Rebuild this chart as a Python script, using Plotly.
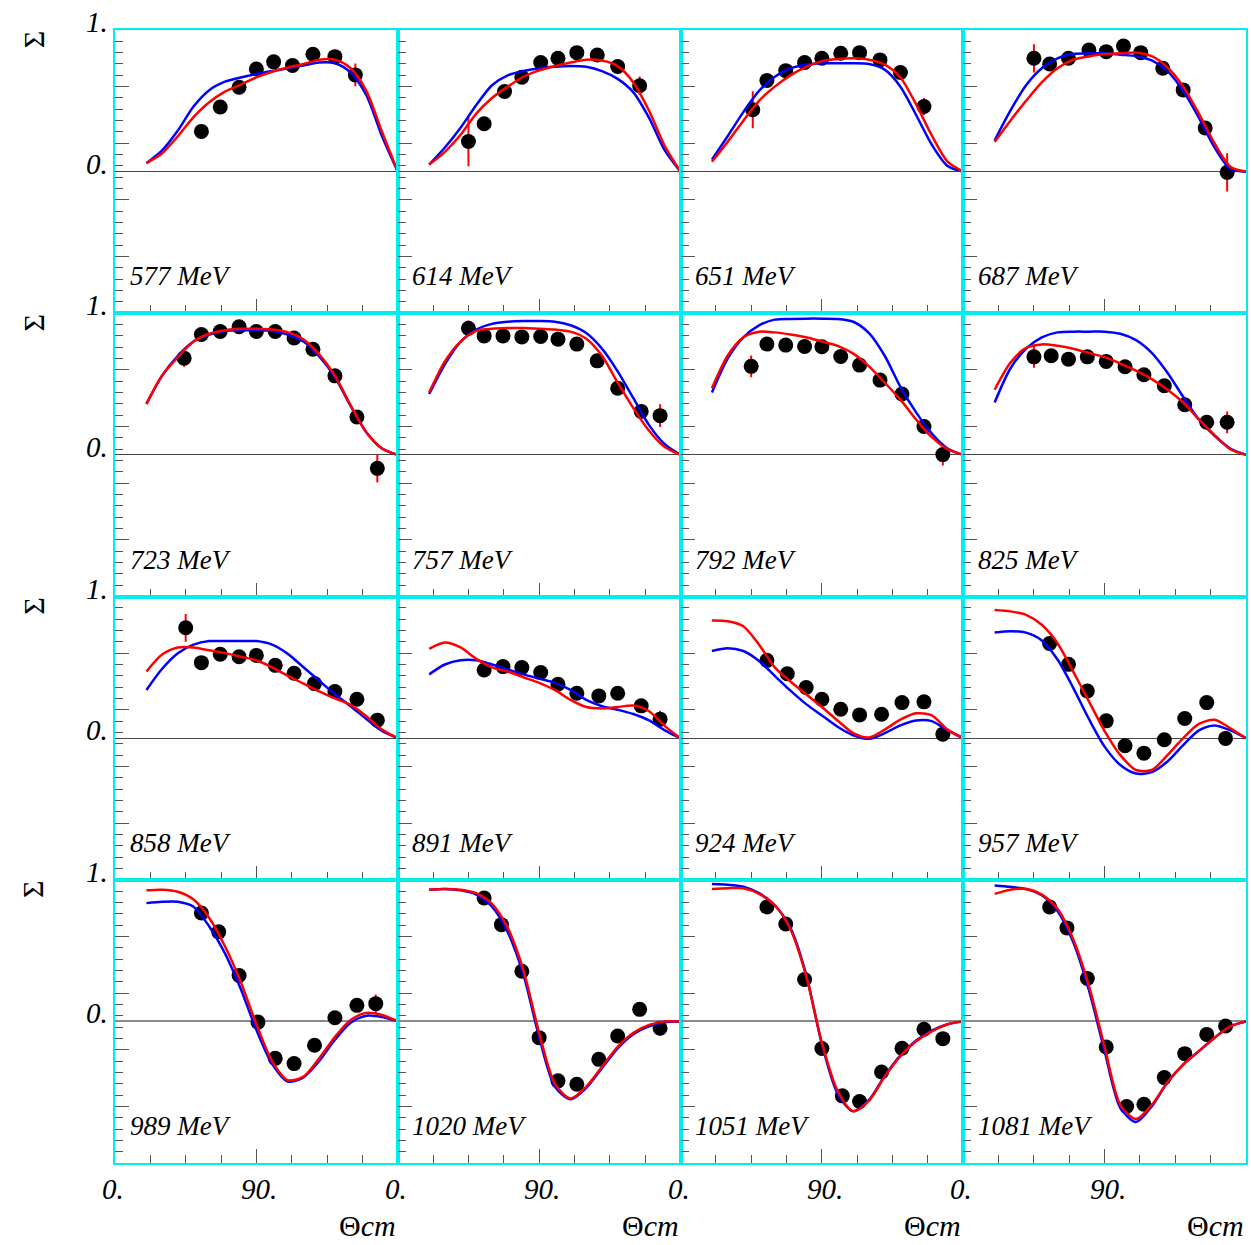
import plotly.graph_objects as go
from plotly.subplots import make_subplots

# Beam asymmetry Sigma vs. c.m. angle, one panel per photon energy
curve_theta = [20, 30, 40, 50, 60, 70, 80, 90, 100, 110, 120, 130, 140, 150, 160, 170, 180]

# ---- 577 MeV
theta_577 = [55, 67, 79, 90, 101, 113, 126, 140, 153]
sigma_577 = [0.284, 0.456, 0.596, 0.725, 0.775, 0.749, 0.829, 0.812, 0.683]
error_577 = [0.03, 0.03, 0.03, 0.03, 0.03, 0.03, 0.03, 0.03, 0.08]
blue_577 = [0.06, 0.15, 0.29, 0.46, 0.575, 0.635, 0.665, 0.69, 0.71, 0.73, 0.75, 0.77, 0.765, 0.70, 0.54, 0.25, 0.0]
red_577 = [0.06, 0.13, 0.25, 0.385, 0.49, 0.565, 0.615, 0.665, 0.705, 0.735, 0.76, 0.79, 0.79, 0.73, 0.57, 0.28, 0.0]

# ---- 614 MeV
theta_614 = [45, 55, 68, 79, 91, 102, 114, 127, 140, 154]
sigma_614 = [0.213, 0.338, 0.566, 0.667, 0.77, 0.80, 0.84, 0.824, 0.742, 0.606]
error_614 = [0.175, 0.03, 0.03, 0.03, 0.03, 0.03, 0.03, 0.03, 0.03, 0.065]
blue_614 = [0.05, 0.17, 0.31, 0.47, 0.61, 0.68, 0.71, 0.73, 0.74, 0.745, 0.74, 0.71, 0.655, 0.56, 0.38, 0.15, 0.0]
red_614 = [0.05, 0.14, 0.26, 0.41, 0.52, 0.60, 0.67, 0.715, 0.745, 0.77, 0.79, 0.785, 0.745, 0.63, 0.43, 0.18, 0.0]

# ---- 651 MeV
theta_651 = [46, 55, 67, 79, 90, 102, 114, 127, 140, 155]
sigma_651 = [0.437, 0.643, 0.713, 0.77, 0.80, 0.836, 0.84, 0.789, 0.70, 0.46]
error_651 = [0.13, 0.03, 0.03, 0.03, 0.03, 0.03, 0.03, 0.03, 0.03, 0.06]
blue_651 = [0.085, 0.25, 0.42, 0.57, 0.67, 0.73, 0.755, 0.765, 0.765, 0.765, 0.76, 0.72, 0.60, 0.40, 0.19, 0.04, 0.0]
red_651 = [0.07, 0.21, 0.36, 0.50, 0.60, 0.68, 0.74, 0.78, 0.795, 0.80, 0.79, 0.755, 0.665, 0.475, 0.255, 0.07, 0.0]

# ---- 687 MeV
theta_687 = [45, 55, 67, 80, 91, 102, 113, 127, 140, 154, 168]
sigma_687 = [0.80, 0.76, 0.80, 0.859, 0.847, 0.887, 0.84, 0.73, 0.577, 0.308, -0.005]
error_687 = [0.10, 0.03, 0.03, 0.03, 0.03, 0.03, 0.03, 0.03, 0.03, 0.03, 0.135]
blue_687 = [0.22, 0.43, 0.61, 0.73, 0.80, 0.83, 0.836, 0.835, 0.825, 0.815, 0.785, 0.71, 0.57, 0.38, 0.17, 0.02, 0.0]
red_687 = [0.21, 0.36, 0.50, 0.63, 0.73, 0.79, 0.815, 0.83, 0.835, 0.84, 0.815, 0.735, 0.60, 0.41, 0.20, 0.035, 0.0]

# ---- 723 MeV
theta_723 = [44, 55, 67, 79, 90, 102, 114, 126, 140, 154, 167]
sigma_723 = [0.683, 0.85, 0.871, 0.905, 0.871, 0.871, 0.825, 0.746, 0.558, 0.267, -0.095]
error_723 = [0.06, 0.03, 0.03, 0.03, 0.03, 0.03, 0.03, 0.03, 0.03, 0.03, 0.10]
blue_723 = [0.36, 0.56, 0.70, 0.80, 0.85, 0.875, 0.88, 0.88, 0.875, 0.85, 0.80, 0.695, 0.55, 0.345, 0.16, 0.045, 0.0]
red_723 = [0.36, 0.56, 0.69, 0.80, 0.855, 0.88, 0.89, 0.89, 0.885, 0.865, 0.815, 0.71, 0.56, 0.35, 0.16, 0.045, 0.0]

# ---- 757 MeV
theta_757 = [45, 55, 67, 79, 91, 102, 114, 127, 140, 155, 167]
sigma_757 = [0.894, 0.84, 0.84, 0.833, 0.836, 0.817, 0.782, 0.664, 0.47, 0.307, 0.277]
error_757 = [0.055, 0.03, 0.03, 0.03, 0.03, 0.03, 0.03, 0.03, 0.03, 0.03, 0.08]
blue_757 = [0.43, 0.64, 0.80, 0.885, 0.925, 0.94, 0.945, 0.945, 0.94, 0.915, 0.86, 0.75, 0.59, 0.40, 0.21, 0.075, 0.0]
red_757 = [0.44, 0.66, 0.80, 0.875, 0.89, 0.895, 0.895, 0.89, 0.885, 0.87, 0.82, 0.70, 0.51, 0.33, 0.17, 0.055, 0.0]

# ---- 792 MeV
theta_792 = [45, 55, 67, 79, 90, 102, 114, 127, 141, 155, 167]
sigma_792 = [0.625, 0.782, 0.775, 0.765, 0.763, 0.695, 0.634, 0.528, 0.43, 0.20, 0.002]
error_792 = [0.077, 0.03, 0.03, 0.03, 0.03, 0.03, 0.03, 0.03, 0.03, 0.03, 0.077]
blue_792 = [0.44, 0.68, 0.83, 0.915, 0.955, 0.96, 0.962, 0.962, 0.96, 0.94, 0.86, 0.70, 0.48, 0.30, 0.15, 0.045, 0.0]
red_792 = [0.47, 0.70, 0.83, 0.87, 0.865, 0.85, 0.83, 0.80, 0.77, 0.715, 0.625, 0.51, 0.39, 0.25, 0.125, 0.04, 0.0]

# ---- 825 MeV
theta_825 = [45, 56, 67, 79, 91, 103, 115, 128, 141, 155, 168]
sigma_825 = [0.692, 0.70, 0.676, 0.692, 0.66, 0.622, 0.566, 0.488, 0.354, 0.23, 0.23]
error_825 = [0.077, 0.03, 0.03, 0.03, 0.03, 0.03, 0.03, 0.03, 0.03, 0.03, 0.077]
blue_825 = [0.37, 0.61, 0.75, 0.83, 0.865, 0.87, 0.87, 0.87, 0.855, 0.81, 0.72, 0.58, 0.41, 0.25, 0.135, 0.045, 0.0]
red_825 = [0.46, 0.65, 0.755, 0.78, 0.77, 0.75, 0.72, 0.69, 0.645, 0.595, 0.535, 0.46, 0.37, 0.25, 0.14, 0.04, 0.0]

# ---- 858 MeV
theta_858 = [45, 55, 67, 79, 90, 102, 114, 127, 140, 154, 167]
sigma_858 = [0.779, 0.533, 0.592, 0.575, 0.584, 0.514, 0.458, 0.385, 0.329, 0.275, 0.127]
error_858 = [0.098, 0.03, 0.03, 0.03, 0.03, 0.03, 0.03, 0.03, 0.03, 0.03, 0.05]
blue_858 = [0.34, 0.49, 0.60, 0.66, 0.685, 0.685, 0.685, 0.685, 0.66, 0.595, 0.50, 0.405, 0.31, 0.225, 0.135, 0.05, 0.0]
red_858 = [0.47, 0.59, 0.64, 0.64, 0.62, 0.60, 0.575, 0.55, 0.50, 0.44, 0.385, 0.33, 0.28, 0.235, 0.155, 0.06, 0.0]

# ---- 891 MeV
theta_891 = [55, 67, 79, 91, 102, 114, 128, 140, 155, 167]
sigma_891 = [0.481, 0.505, 0.498, 0.463, 0.38, 0.317, 0.298, 0.317, 0.228, 0.134]
error_891 = [0.03, 0.03, 0.03, 0.03, 0.03, 0.03, 0.03, 0.03, 0.03, 0.06]
blue_891 = [0.45, 0.52, 0.55, 0.55, 0.52, 0.485, 0.45, 0.42, 0.39, 0.34, 0.27, 0.225, 0.20, 0.17, 0.125, 0.055, 0.0]
red_891 = [0.63, 0.675, 0.64, 0.56, 0.50, 0.47, 0.43, 0.39, 0.34, 0.27, 0.22, 0.21, 0.22, 0.23, 0.19, 0.085, 0.0]

# ---- 924 MeV
theta_924 = [55, 68, 80, 90, 102, 114, 128, 141, 155, 167]
sigma_924 = [0.549, 0.455, 0.357, 0.275, 0.204, 0.164, 0.169, 0.251, 0.256, 0.028]
error_924 = [0.03, 0.03, 0.03, 0.03, 0.03, 0.03, 0.03, 0.03, 0.03, 0.05]
blue_924 = [0.615, 0.635, 0.615, 0.545, 0.44, 0.335, 0.24, 0.16, 0.08, 0.02, -0.005, 0.035, 0.09, 0.125, 0.12, 0.055, 0.0]
red_924 = [0.83, 0.825, 0.79, 0.66, 0.50, 0.40, 0.31, 0.22, 0.125, 0.035, 0.005, 0.06, 0.13, 0.175, 0.16, 0.06, 0.0]

# ---- 957 MeV
theta_957 = [55, 67, 79, 91, 103, 115, 128, 141, 155, 167]
sigma_957 = [0.669, 0.521, 0.333, 0.122, -0.054, -0.106, -0.012, 0.139, 0.251, -0.002]
error_957 = [0.03, 0.03, 0.03, 0.03, 0.03, 0.03, 0.03, 0.03, 0.03, 0.05]
blue_957 = [0.745, 0.755, 0.745, 0.69, 0.555, 0.355, 0.135, -0.06, -0.19, -0.25, -0.24, -0.165, -0.05, 0.055, 0.09, 0.055, 0.0]
red_957 = [0.905, 0.895, 0.87, 0.80, 0.67, 0.47, 0.26, 0.05, -0.12, -0.225, -0.225, -0.12, 0.0, 0.10, 0.13, 0.07, 0.0]

# ---- 989 MeV
theta_989 = [55, 66, 79, 91, 102, 114, 127, 140, 154, 166]
sigma_989 = [0.765, 0.632, 0.324, -0.005, -0.261, -0.298, -0.169, 0.026, 0.113, 0.125]
error_989 = [0.03, 0.03, 0.03, 0.03, 0.03, 0.03, 0.03, 0.03, 0.03, 0.065]
blue_989 = [0.835, 0.845, 0.845, 0.81, 0.67, 0.48, 0.23, -0.06, -0.30, -0.425, -0.395, -0.28, -0.13, -0.01, 0.04, 0.03, 0.0]
red_989 = [0.925, 0.93, 0.915, 0.86, 0.73, 0.53, 0.28, -0.02, -0.28, -0.415, -0.39, -0.26, -0.11, 0.01, 0.06, 0.045, 0.0]

# ---- 1020 MeV
theta_1020 = [55, 66, 79, 90, 102, 114, 128, 140, 154, 167]
sigma_1020 = [0.871, 0.683, 0.354, -0.115, -0.42, -0.444, -0.268, -0.103, 0.085, -0.049]
error_1020 = [0.03, 0.03, 0.03, 0.03, 0.03, 0.03, 0.03, 0.03, 0.03, 0.05]
blue_1020 = [0.93, 0.935, 0.925, 0.895, 0.81, 0.63, 0.33, -0.11, -0.46, -0.55, -0.47, -0.33, -0.19, -0.09, -0.035, -0.005, 0.0]
red_1020 = [0.93, 0.935, 0.93, 0.905, 0.83, 0.66, 0.36, -0.08, -0.44, -0.545, -0.46, -0.32, -0.18, -0.08, -0.025, 0.0, 0.0]

# ---- 1051 MeV
theta_1051 = [55, 67, 79, 90, 103, 114, 128, 141, 155, 167]
sigma_1051 = [0.808, 0.688, 0.296, -0.192, -0.526, -0.566, -0.357, -0.19, -0.056, -0.122]
error_1051 = [0.03, 0.03, 0.03, 0.03, 0.03, 0.03, 0.03, 0.03, 0.03, 0.03]
blue_1051 = [0.97, 0.965, 0.95, 0.905, 0.82, 0.66, 0.33, -0.16, -0.51, -0.635, -0.555, -0.385, -0.24, -0.135, -0.065, -0.02, 0.0]
red_1051 = [0.935, 0.94, 0.94, 0.90, 0.82, 0.65, 0.32, -0.15, -0.49, -0.635, -0.56, -0.39, -0.245, -0.14, -0.07, -0.02, 0.0]

# ---- 1081 MeV
theta_1081 = [55, 66, 79, 91, 104, 115, 128, 141, 155, 167]
sigma_1081 = [0.808, 0.66, 0.303, -0.181, -0.601, -0.585, -0.397, -0.228, -0.092, -0.033]
error_1081 = [0.03, 0.03, 0.03, 0.03, 0.03, 0.03, 0.03, 0.03, 0.03, 0.03]
blue_1081 = [0.96, 0.95, 0.935, 0.89, 0.78, 0.56, 0.22, -0.21, -0.61, -0.71, -0.60, -0.43, -0.305, -0.21, -0.115, -0.035, 0.0]
red_1081 = [0.90, 0.93, 0.935, 0.895, 0.795, 0.58, 0.25, -0.18, -0.59, -0.69, -0.59, -0.43, -0.305, -0.21, -0.115, -0.035, 0.0]

panels = [
    (577, theta_577, sigma_577, error_577, blue_577, red_577),
    (614, theta_614, sigma_614, error_614, blue_614, red_614),
    (651, theta_651, sigma_651, error_651, blue_651, red_651),
    (687, theta_687, sigma_687, error_687, blue_687, red_687),
    (723, theta_723, sigma_723, error_723, blue_723, red_723),
    (757, theta_757, sigma_757, error_757, blue_757, red_757),
    (792, theta_792, sigma_792, error_792, blue_792, red_792),
    (825, theta_825, sigma_825, error_825, blue_825, red_825),
    (858, theta_858, sigma_858, error_858, blue_858, red_858),
    (891, theta_891, sigma_891, error_891, blue_891, red_891),
    (924, theta_924, sigma_924, error_924, blue_924, red_924),
    (957, theta_957, sigma_957, error_957, blue_957, red_957),
    (989, theta_989, sigma_989, error_989, blue_989, red_989),
    (1020, theta_1020, sigma_1020, error_1020, blue_1020, red_1020),
    (1051, theta_1051, sigma_1051, error_1051, blue_1051, red_1051),
    (1081, theta_1081, sigma_1081, error_1081, blue_1081, red_1081),
]

CYAN = "#00EEEE"
TICK = "#555555"
SERIF = "Liberation Serif"

W, H = 1251, 1245
ML, MR, MT, MB = 115, 3, 30, 82

fig = make_subplots(rows=4, cols=4, horizontal_spacing=0, vertical_spacing=0)

for i, (energy, th, sg, er, bl, rd) in enumerate(panels):
    r, c = i // 4 + 1, i % 4 + 1
    fig.add_trace(go.Scatter(
        x=th, y=sg, mode="markers",
        marker=dict(color="black", size=15),
        error_y=dict(type="data", array=er, color="#ff0000", thickness=2, width=0),
        showlegend=False, cliponaxis=False), row=r, col=c)
    fig.add_trace(go.Scatter(
        x=curve_theta, y=bl, mode="lines",
        line=dict(color="#0000ff", width=2.5, shape="spline", smoothing=0.8),
        showlegend=False), row=r, col=c)
    fig.add_trace(go.Scatter(
        x=curve_theta, y=rd, mode="lines",
        line=dict(color="#ff0000", width=2.5, shape="spline", smoothing=0.8),
        showlegend=False), row=r, col=c)

fig.update_xaxes(
    range=[0, 180], showgrid=False, zeroline=False,
    showline=True, mirror=True, linecolor=CYAN, linewidth=2,
    ticks="inside", tick0=0, dtick=90, ticklen=14, tickcolor=TICK, tickwidth=1,
    minor=dict(ticks="inside", tick0=0, dtick=22.5, ticklen=8, tickcolor=TICK, tickwidth=1),
    showticklabels=False)
fig.update_yaxes(
    range=[-1, 1], showgrid=False,
    zeroline=True, zerolinecolor="#444444", zerolinewidth=1.2,
    showline=True, mirror=True, linecolor=CYAN, linewidth=2,
    ticks="inside", tick0=-1, dtick=0.4, ticklen=14, tickcolor=TICK, tickwidth=1,
    minor=dict(ticks="inside", tick0=-1, dtick=0.08, ticklen=8, tickcolor=TICK, tickwidth=1),
    showticklabels=False)
for c in range(1, 5):
    fig.update_yaxes(zerolinecolor="#8a8a8a", zerolinewidth=2, row=4, col=c)


def axis_names(idx):
    s = "" if idx == 1 else str(idx)
    return "x" + s, "y" + s


annotations = []
label_font = dict(family=SERIF, size=27, color="black")
tick_font = dict(family=SERIF, size=29, color="black")

for i, (energy, *_rest) in enumerate(panels):
    r, c = i // 4 + 1, i % 4 + 1
    xa, ya = axis_names(i + 1)
    # energy label in the lower-left corner of each panel
    annotations.append(dict(
        x=8, y=-0.74, xref=xa, yref=ya, xanchor="left", yanchor="middle",
        text=f"<i>{energy} MeV</i>", showarrow=False, font=label_font))
    if c == 1:
        for val, txt in ((1, "1."), (0, "0.")):
            annotations.append(dict(
                x=0, y=val, xref=xa + " domain", yref=ya, xanchor="right",
                yanchor="middle", xshift=-5, yshift=8,
                text=f"<i>{txt}</i>", showarrow=False, font=tick_font))
        # rotated Sigma title to the left of each row
        top_px = MT + (r - 1) * (H - MT - MB) / 4
        annotations.append(dict(
            x=(33 - ML) / (W - ML - MR), y=(H - MB - (top_px + 10)) / (H - MT - MB),
            xref="paper", yref="paper", xanchor="center", yanchor="middle",
            text="Σ", textangle=-90, showarrow=False,
            font=dict(family=SERIF, size=30, color="black")))
    if r == 4:
        for val, txt, sh in ((0, "0.", -2), (90, "90.", 3)):
            annotations.append(dict(
                x=val, y=0, xref=xa, yref=ya + " domain", xanchor="center",
                yanchor="middle", xshift=sh, yshift=-26,
                text=f"<i>{txt}</i>", showarrow=False, font=tick_font))
        annotations.append(dict(
            x=1, y=0, xref=xa + " domain", yref=ya + " domain", xanchor="right",
            yanchor="middle", yshift=-62, text="Θ<i>cm</i>", showarrow=False,
            font=dict(family=SERIF, size=30, color="black")))

fig.update_layout(
    width=W, height=H,
    margin=dict(l=ML, r=MR, t=MT, b=MB),
    paper_bgcolor="white", plot_bgcolor="white",
    showlegend=False,
    annotations=annotations,
)

fig.write_html("out.html")
